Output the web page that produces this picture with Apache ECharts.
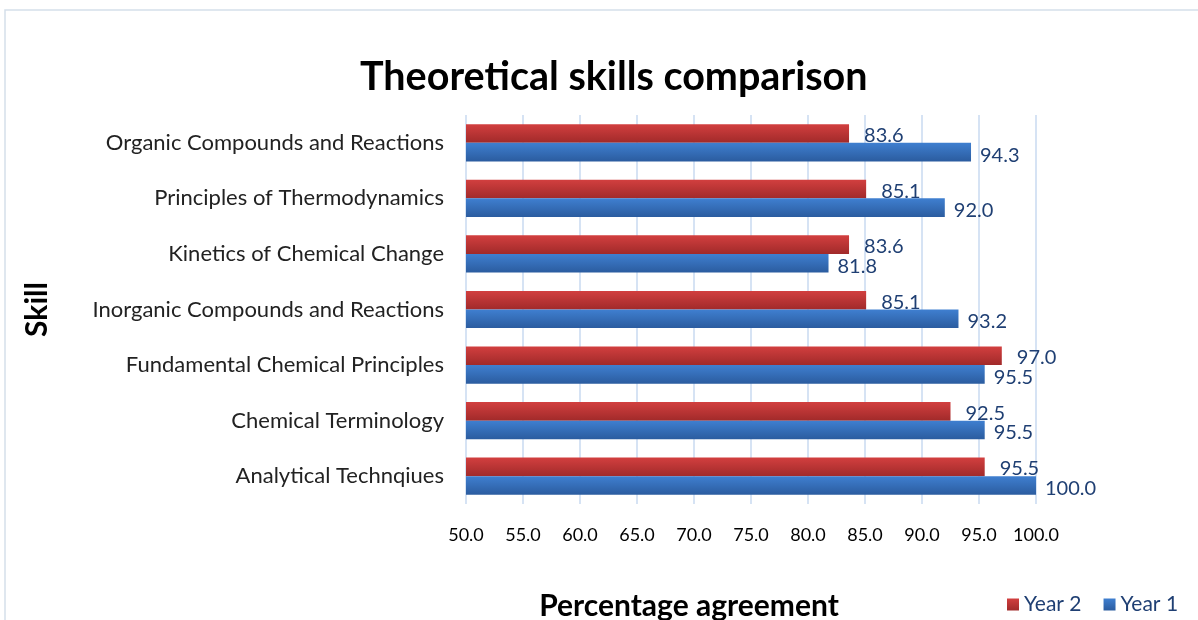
<!DOCTYPE html>
<html><head><meta charset="utf-8">
<script src="https://cdn.jsdelivr.net/npm/echarts@6/dist/echarts.min.js"></script>
<style>html,body{margin:0;padding:0;background:#fff}#c{width:1198px;height:620px}</style>
</head><body><div id="c"></div>
<script>
const categories = ["Analytical Technqiues", "Chemical Terminology", "Fundamental Chemical Principles", "Inorganic Compounds and Reactions", "Kinetics of Chemical Change", "Principles of Thermodynamics", "Organic Compounds and Reactions"];
const year1 = [100.0, 95.5, 95.5, 93.2, 81.8, 92.0, 94.3];
const year2 = [95.5, 92.5, 97.0, 85.1, 83.6, 85.1, 83.6];
const seriesNames = ["Year 2", "Year 1"];
const xMin = 50, xMax = 100, xStep = 5;

const FONT = 'Lato, "Open Sans", sans-serif';
const chart = echarts.init(document.getElementById('c'), null, {renderer: 'canvas'});
function grad(top, bottom) {
  return new echarts.graphic.LinearGradient(0, 0, 0, 1, [{offset: 0, color: top}, {offset: 1, color: bottom}]);
}
chart.setOption({
  animation: false,
  textStyle: {fontFamily: FONT},
  graphic: [{type: 'rect', shape: {x: 5, y: 10, width: 1200, height: 620}, style: {fill: 'none', stroke: '#d5dfea', lineWidth: 1.5}, silent: true}],
  title: {text: 'Theoretical skills comparison', left: 355, top: 52,
    textStyle: {fontFamily: FONT, fontSize: 39.5, fontWeight: 'bold', color: '#000'}},
  legend: {data: seriesNames, left: 1002, top: 589, itemWidth: 12, itemHeight: 12, itemGap: 22,
    icon: 'rect', textStyle: {fontFamily: FONT, fontSize: 21, color: '#1f3f73'}},
  grid: {left: 466, right: 162, top: 115, bottom: 116, containLabel: false, outerBoundsMode: 'none'},
  xAxis: {type: 'value', min: xMin, max: xMax, interval: xStep,
    name: 'Percentage agreement', nameLocation: 'middle', nameGap: 87,
    nameTextStyle: {fontFamily: FONT, fontSize: 30, fontWeight: 'bold', color: '#000', padding: [0, 124, 0, 0]},
    axisLine: {show: false}, axisTick: {show: false},
    axisLabel: {formatter: v => v.toFixed(1), fontSize: 18, color: '#000', margin: 22},
    splitLine: {show: true, lineStyle: {color: '#c9daf0', width: 1.5}}},
  yAxis: {type: 'category', data: categories,
    name: 'Skill', nameLocation: 'middle', nameGap: 414, nameRotate: 90,
    nameTextStyle: {fontFamily: FONT, fontSize: 30, fontWeight: 'bold', color: '#000'},
    axisLine: {show: false}, axisTick: {show: false},
    axisLabel: {fontSize: 22, color: '#222', margin: 22}},
  series: [
    {name: seriesNames[0], type: 'bar', data: year2, barGap: '0%', barCategoryGap: '33%',
      itemStyle: {color: grad('#d23f3f', '#a12a2a')},
      label: {show: true, position: 'right', distance: 15, offset: [0, 2], formatter: p => p.value.toFixed(1), fontSize: 20, color: '#1f3f73'}},
    {name: seriesNames[1], type: 'bar', data: year1, barGap: '0%', barCategoryGap: '33%',
      itemStyle: {color: grad('#3f7fd0', '#2b5c9f')},
      label: {show: true, position: 'right', distance: 9, offset: [0, 3], formatter: p => p.value.toFixed(1), fontSize: 20, color: '#1f3f73'}}
  ]
});
</script></body></html>
